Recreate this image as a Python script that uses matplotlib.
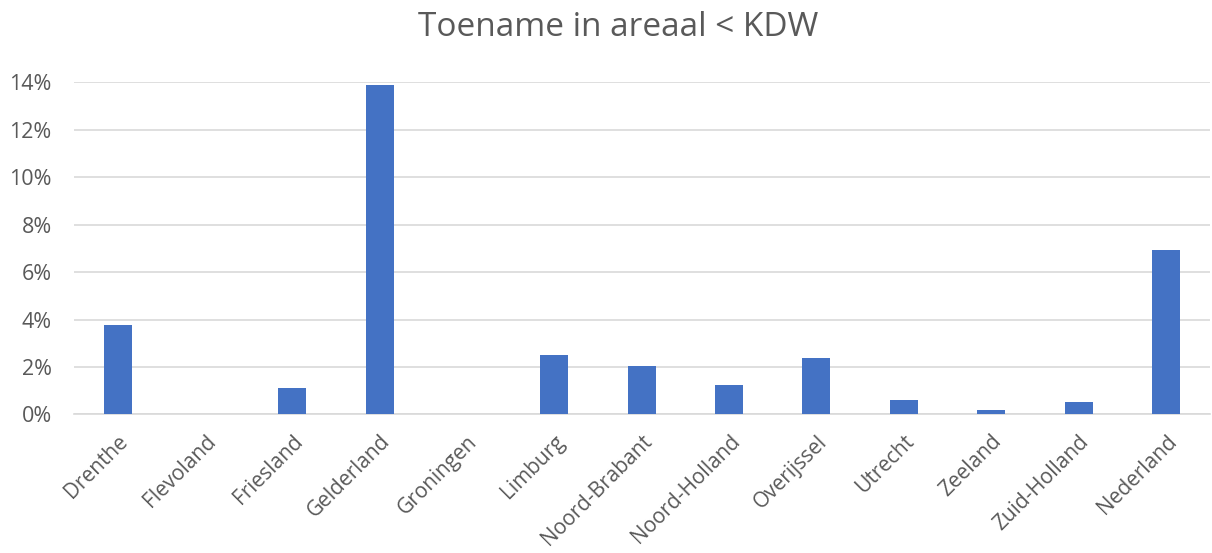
import matplotlib.pyplot as plt
from matplotlib.ticker import PercentFormatter

# --- data ---
provincies = ['Drenthe', 'Flevoland', 'Friesland', 'Gelderland', 'Groningen', 'Limburg',
              'Noord-Brabant', 'Noord-Holland', 'Overijssel', 'Utrecht', 'Zeeland',
              'Zuid-Holland', 'Nederland']
toename = [0.0379, 0.0, 0.0112, 0.1389, 0.0, 0.0250,
           0.0203, 0.0126, 0.0237, 0.0062, 0.0018,
           0.0052, 0.0694]
y_ticks = [0.0, 0.02, 0.04, 0.06, 0.08, 0.10, 0.12, 0.14]

TEXT_COLOR = '#595959'
BAR_COLOR = '#4472C4'
GRID_COLOR = '#D9D9D9'

plt.rcParams['font.family'] = ['Open Sans', 'DejaVu Sans']

fig = plt.figure(figsize=(12.12, 5.53), dpi=100)
ax = fig.add_axes([0.061, 0.2505, 0.937, 0.6005])

x = range(len(provincies))
ax.bar(x, toename, width=0.32, color=BAR_COLOR, zorder=3)

ax.set_xlim(-0.5, len(provincies) - 0.5)
ax.set_ylim(0, 0.14)
ax.set_yticks(y_ticks)
ax.yaxis.set_major_formatter(PercentFormatter(xmax=1, decimals=0))
ax.grid(axis='y', color=GRID_COLOR, linewidth=1.2, zorder=0)

for side in ['top', 'right', 'left']:
    ax.spines[side].set_visible(False)
ax.spines['bottom'].set_color(GRID_COLOR)
ax.spines['bottom'].set_linewidth(1.2)

ax.set_xticks(list(x))
ax.set_xticklabels(provincies, rotation=45, ha='right', rotation_mode='anchor')
ax.tick_params(axis='both', length=0, colors=TEXT_COLOR)
ax.tick_params(axis='x', labelsize=15, pad=12)
ax.tick_params(axis='y', labelsize=15.5, pad=16)

fig.text(0.51, 0.951, 'Toename in areaal < KDW', ha='center', va='center',
         fontsize=24, color=TEXT_COLOR)

fig.savefig('out.png', dpi=100)
plt.close(fig)
